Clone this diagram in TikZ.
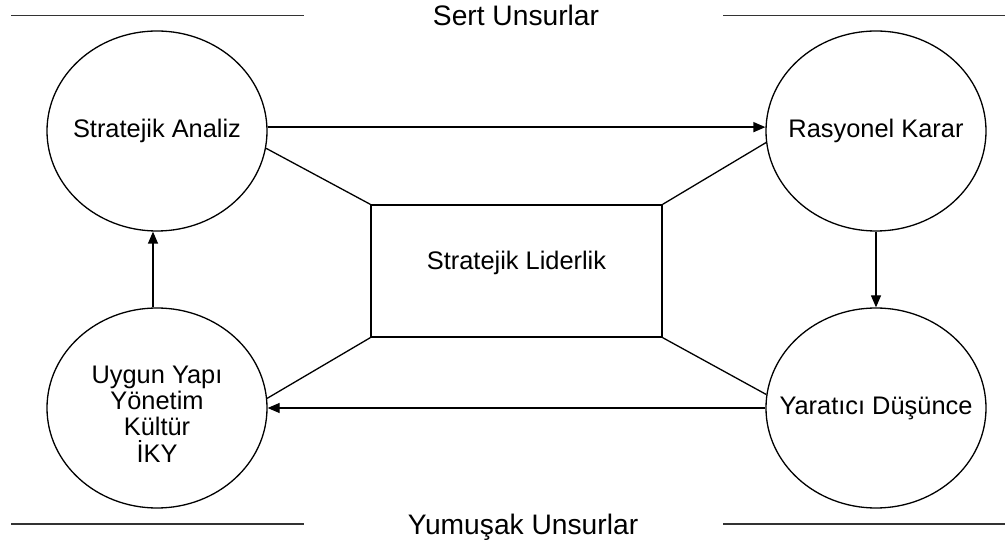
\documentclass[tikz,border=0pt]{standalone}
\usepackage{fontspec}
\setmainfont{Liberation Sans}
\usetikzlibrary{shapes.geometric,arrows.meta}
\begin{document}
\begin{tikzpicture}[x=0.5pt,y=-0.5pt,
  ell/.style={draw,ellipse,minimum width=110pt,minimum height=100pt,inner sep=0pt,line width=0.65pt},
  txt/.style={font=\fontsize{12.7}{13.2}\selectfont,align=center,inner sep=0pt},
  head/.style={font=\fontsize{14.1}{15}\selectfont,inner sep=0pt},
  box/.style={draw,rectangle,minimum width=145.5pt,minimum height=66pt,inner sep=0pt,line width=0.65pt},
  conn/.style={line width=0.65pt},
  arr/.style={line width=0.65pt,-{Triangle[length=6pt,width=5pt]}},
  rule/.style={line width=0.8pt,black!80}]
\useasboundingbox (0,0) rectangle (1008,545);
% ellipses
\node[ell] (SA) at (157,131) {};
\node[ell] (RK) at (876,131) {};
\node[ell] (UY) at (157,408) {};
\node[ell] (YD) at (876,408) {};
\node[txt] (SAt) at (SA) {Stratejik Analiz};
\node[txt] (RKt) at (RK) {Rasyonel Karar};
\node[txt] (UYt) at ([yshift=-3pt]UY.center) {Uygun Yapı\\Yönetim\\Kültür\\İKY};
\node[txt] (YDt) at (YD) {Yaratıcı Düşünce};
% box
\node[box] (SL) at (516.5,271) {};
\node[txt] (SLt) at ([yshift=4pt]SL.center) {Stratejik Liderlik};
% arrows
\draw[arr] (SA.2) -- (RK.178);
\draw[arr] (RK.south) -- (YD.north);
\draw[arr] (YD.west) -- (UY.east);
\draw[arr] ([xshift=-2pt]UY.north) -- ([xshift=-2pt]SA.south);
% diagonals
\draw[conn] (SL.north west) -- (SA.351);
\draw[conn] (SL.north east) -- (RK.186);
\draw[conn] (SL.south west) -- (UY.5);
\draw[conn] (SL.south east) -- (YD.173);
% rules and headings
\coordinate (t1) at (11,15.5); \coordinate (t2) at (304,15.5);
\coordinate (t3) at (723,15.5); \coordinate (t4) at (1005,15.5);
\coordinate (b1) at (11,524); \coordinate (b2) at (304,524);
\coordinate (b3) at (723,524); \coordinate (b4) at (1005,524);
\draw[rule] (t1) -- (t2);
\draw[rule] (t3) -- (t4);
\draw[rule] (b1) -- (b2);
\draw[rule] (b3) -- (b4);
\node[head,anchor=base] (top) at (516,26) {Sert Unsurlar};
\node[head,anchor=base] (bot) at (523,535) {Yumuşak Unsurlar};
\end{tikzpicture}
\end{document}
